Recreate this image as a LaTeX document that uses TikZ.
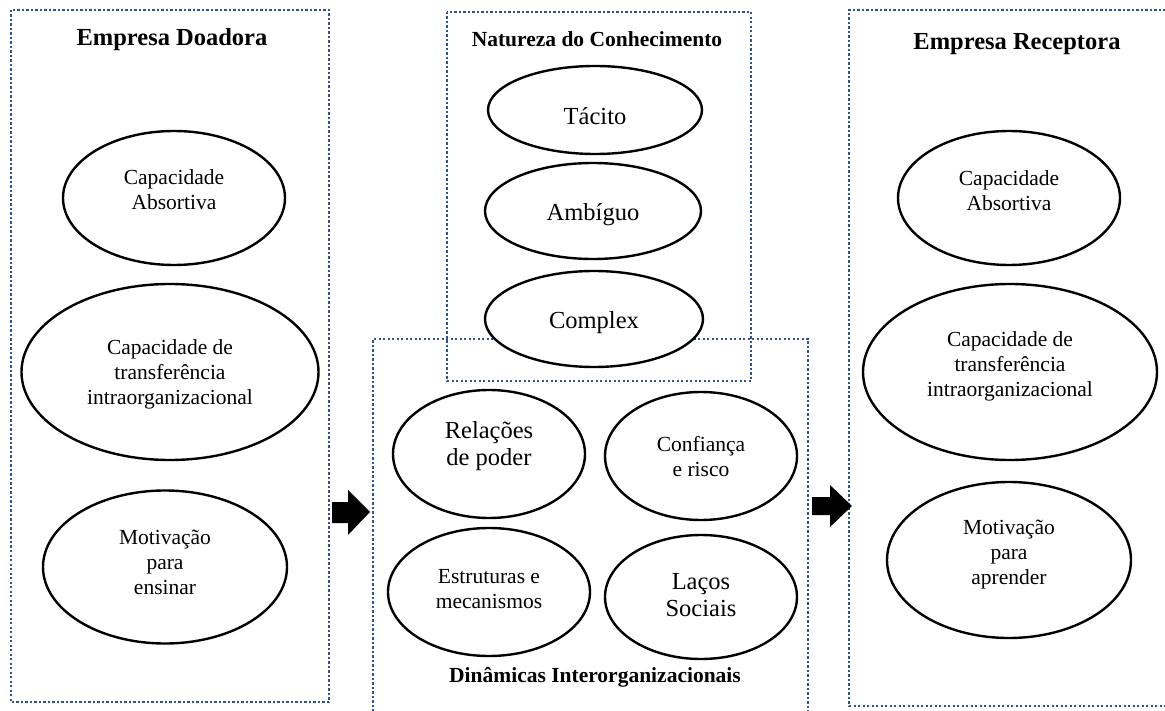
\documentclass[tikz,border=0pt]{standalone}
\usepackage{fontspec}
\setmainfont{Liberation Serif}
\usetikzlibrary{shapes.geometric}
\definecolor{dotblue}{RGB}{47,84,150}
\begin{document}
\begin{tikzpicture}[x=1pt,y=-1pt,
  box/.style={draw=dotblue, line width=2.6pt, dash pattern=on 2.2pt off 2.3pt},
  ell/.style={ellipse, draw=black, line width=2.4pt, fill=white, inner sep=0pt},
  txt/.style={align=center, font=\fontsize{21.5}{25}\selectfont, inner sep=0pt},
  txtl/.style={align=center, font=\fontsize{24.5}{27}\selectfont, inner sep=0pt},
  ttl/.style={font=\bfseries\fontsize{24.5}{28}\selectfont, anchor=base, inner sep=0pt},
  ttls/.style={font=\bfseries\fontsize{21.5}{25}\selectfont, anchor=base, inner sep=0pt},
  blockarrow/.style={fill=black}]
\useasboundingbox (0,0) rectangle (1165,711);

% boxes
\draw[box] (11,10) rectangle (329,702);
\draw[box] (447,12) rectangle (751,381);
\draw[box] (373,716) -- (373,339) -- (808,339) -- (808,716);
\draw[box] (1170,10) -- (849,10) -- (849,706) -- (1170,706);

% titles
\node[ttl] (tdoa) at (172,46) {Empresa Doadora};
\node[ttls] (tnat) at (597,47) {Natureza do Conhecimento};
\node[ttls] (tdin) at (595,682) {Dinâmicas Interorganizacionais};
\node[ttl] (trec) at (1017,50) {Empresa Receptora};

% left ellipses
\node[ell, minimum width=222pt, minimum height=134pt] (l1) at (174,198) {};
\node[ell, minimum width=297pt, minimum height=176pt] (l2) at (170,372) {};
\node[ell, minimum width=244pt, minimum height=153pt] (l3) at (165,567) {};
\node[txt] (l1t) at (174,190) {Capacidade\\Absortiva};
\node[txt] (l2t) at (170,374) {Capacidade de\\transferência\\intraorganizacional};
\node[txt] (l3t) at (165,562) {Motivação\\para\\ensinar};

% nature ellipses
\node[ell, minimum width=214pt, minimum height=88pt] (n1) at (595,110) {};
\node[ell, minimum width=216pt, minimum height=96pt] (n2) at (593,211) {};
\node[ell, minimum width=218pt, minimum height=96pt] (n3) at (594,319) {};
\node[txtl] (n1t) at (595,116) {Tácito};
\node[txtl] (n2t) at (593,215) {Ambíguo};
\node[txtl] (n3t) at (594,323) {Complex};

% dynamics ellipses
\node[ell, minimum width=192pt, minimum height=128pt] (d1) at (489,454) {};
\node[ell, minimum width=192pt, minimum height=128pt] (d2) at (701,456) {};
\node[ell, minimum width=202pt, minimum height=128pt] (d3) at (489,592) {};
\node[ell, minimum width=192pt, minimum height=124pt] (d4) at (701,597) {};
\node[txtl] (d1t) at (489,446) {Relações\\de poder};
\node[txt] (d2t) at (701,457) {Confiança\\e risco};
\node[txt] (d3t) at (489,589) {Estruturas e\\mecanismos};
\node[txtl] (d4t) at (701,595) {Laços\\Sociais};

% right ellipses
\node[ell, minimum width=222pt, minimum height=134pt] (r1) at (1009,198) {};
\node[ell, minimum width=294pt, minimum height=176pt] (r2) at (1010,372) {};
\node[ell, minimum width=244pt, minimum height=156pt] (r3) at (1009,560) {};
\node[txt] (r1t) at (1009,191) {Capacidade\\Absortiva};
\node[txt] (r2t) at (1010,366) {Capacidade de\\transferência\\intraorganizacional};
\node[txt] (r3t) at (1009,555) {Motivação\\para\\aprender};

% block arrows
\fill[blockarrow] (332,502) -- (348,502) -- (348,490) -- (370,512) -- (348,535) -- (348,523) -- (332,523) -- cycle;
\fill[blockarrow] (812,497) -- (830,497) -- (830,485) -- (852,506) -- (830,527) -- (830,515) -- (812,515) -- cycle;
\end{tikzpicture}
\end{document}
